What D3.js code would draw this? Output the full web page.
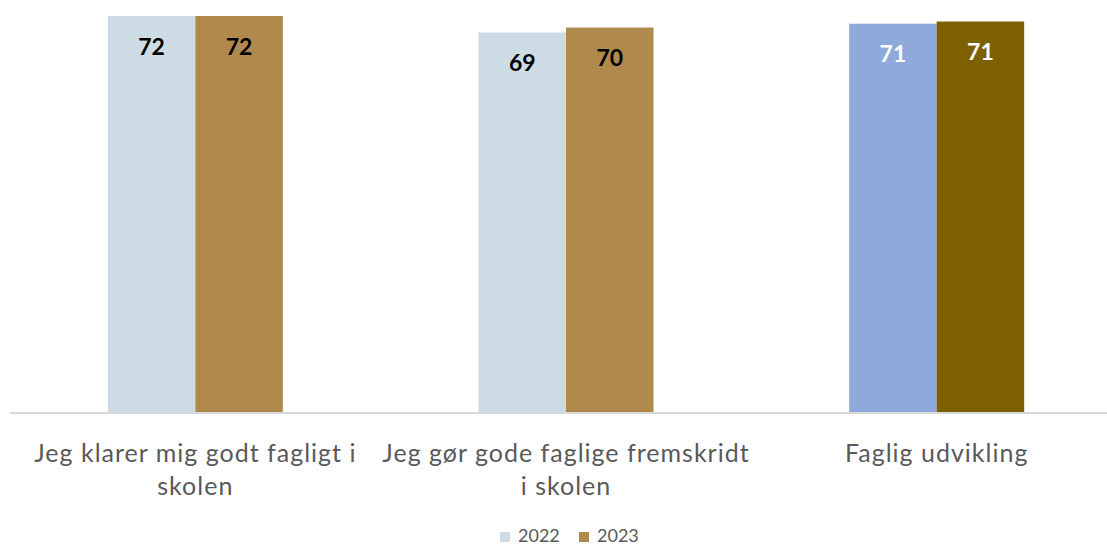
<!DOCTYPE html>
<html>
<head>
<meta charset="utf-8">
<script src="https://cdn.jsdelivr.net/npm/d3@7"></script>
<style>
  html, body { margin: 0; padding: 0; background: #fff; }
  svg { display: block; font-family: Lato, "Open Sans", sans-serif; }
</style>
</head>
<body>
<div id="chart"></div>
<script>
const categories = ["Jeg klarer mig godt fagligt i skolen", "Jeg gør gode faglige fremskridt i skolen", "Faglig udvikling"];
const series = ["2022", "2023"];
const values2022 = [72, 69, 70.6];
const values2023 = [72, 69.9, 71];
const labels2022 = ["72", "69", "71"];
const labels2023 = ["72", "70", "71"];

const W = 1107, H = 547;
const baseY = 412;
const svg = d3.select("#chart").append("svg").attr("width", W).attr("height", H);

const x = d3.scaleBand().domain(categories).range([10, 1122]).paddingInner(0).paddingOuter(0);
const x1 = d3.scaleBand().domain(series).range([0, 175]);
const y = d3.scaleLinear().domain([0, 72]).range([baseY, 16]);

const colors = {
  "2022": ["#cddbe5", "#cddbe5", "#8eaadb"],
  "2023": ["#b08a4d", "#b08a4d", "#7f6000"]
};
const labelColors = ["#000", "#000", "#fff"];

const rows = [];
categories.forEach((c, i) => {
  rows.push({cat: c, i, s: "2022", v: values2022[i], lab: labels2022[i]});
  rows.push({cat: c, i, s: "2023", v: values2023[i], lab: labels2023[i]});
});

const bx = d => x(d.cat) + x.bandwidth() / 2 - 87.5 + x1(d.s);

svg.append("g").selectAll("rect").data(rows).join("rect")
  .attr("x", bx)
  .attr("y", d => y(d.v))
  .attr("width", x1.bandwidth())
  .attr("height", d => baseY - y(d.v))
  .attr("fill", d => colors[d.s][d.i]);

svg.append("line").attr("x1", 10).attr("x2", 1107).attr("y1", baseY + 1).attr("y2", baseY + 1)
  .attr("stroke", "#d9d9d9").attr("stroke-width", 2);

svg.append("g").selectAll("text").data(rows).join("text")
  .attr("x", d => bx(d) + x1.bandwidth() / 2)
  .attr("y", d => y(d.v) + 38.5)
  .attr("text-anchor", "middle")
  .attr("font-size", 23).attr("font-weight", "bold")
  .attr("fill", d => labelColors[d.i])
  .text(d => d.lab);

// category axis labels with wrapping
const axisG = svg.append("g");
const fs = 25, ls = 1;
categories.forEach(c => {
  const t = axisG.append("text")
    .attr("text-anchor", "middle")
    .attr("font-size", fs).attr("letter-spacing", ls).attr("fill", "#595959");
  const cx = x(c) + x.bandwidth() / 2;
  const words = c.split(" ");
  let line = [], lines = [];
  const probe = axisG.append("text").attr("font-size", fs).attr("letter-spacing", ls).attr("visibility", "hidden");
  words.forEach(w => {
    const test = line.concat(w).join(" ");
    probe.text(test);
    if (probe.node().getComputedTextLength() > 368 && line.length) {
      lines.push(line.join(" "));
      line = [w];
    } else line.push(w);
  });
  lines.push(line.join(" "));
  probe.remove();
  lines.forEach((l, k) => {
    t.append("tspan").attr("x", cx).attr("y", 462 + k * 33).text(l);
  });
});

// legend
const leg = svg.append("g");
const legX = [500, 579];
series.forEach((s, k) => {
  leg.append("rect").attr("x", legX[k]).attr("y", 532).attr("width", 10).attr("height", 10)
    .attr("fill", colors[s][0]);
  leg.append("text").attr("x", legX[k] + 18).attr("y", 542)
    .attr("font-size", 18).attr("fill", "#595959").text(s);
});
</script>
</body>
</html>
